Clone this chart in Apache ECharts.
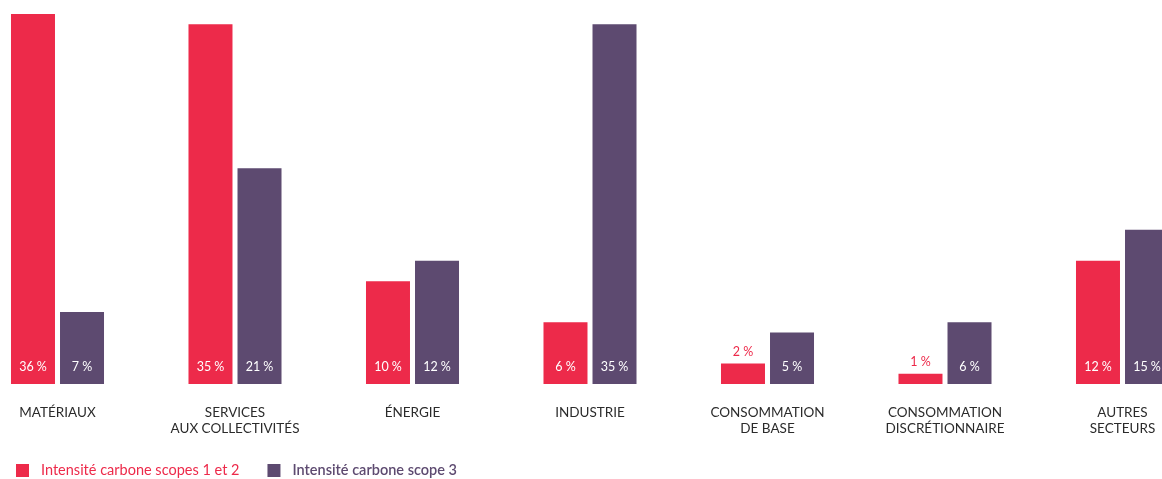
<!DOCTYPE html>
<html>
<head>
<meta charset="utf-8">
<script src="https://cdn.jsdelivr.net/npm/echarts@6/dist/echarts.min.js"></script>
<style>
  html, body { margin: 0; padding: 0; background: #fff; overflow: hidden; }
  #wrap { width: 1162px; height: 479px; overflow: hidden; position: relative; }
  #chart { width: 1300px; height: 479px; position: absolute; left: -32px; top: 0; }
</style>
</head>
<body>
<div id="wrap"><div id="chart"></div></div>
<script>
// data
const categories = [
  "MATÉRIAUX",
  "SERVICES\nAUX COLLECTIVITÉS",
  "ÉNERGIE",
  "INDUSTRIE",
  "CONSOMMATION\nDE BASE",
  "CONSOMMATION\nDISCRÉTIONNAIRE",
  "AUTRES\nSECTEURS"
];
const scope12 = [36, 35, 10, 6, 2, 1, 12];
const scope3 = [7, 21, 12, 35, 5, 6, 15];
const seriesNames = ["Intensité carbone scopes 1 et 2", "Intensité carbone scope 3"];

const RED = "#ED2A4A";
const PURPLE = "#5D4A70";
const FONT = "Lato";
const SHIFT = 32; // chart div is moved left by this much

const chart = echarts.init(document.getElementById("chart"));

// small bars get their label above, in the bar colour
const toItems = (values, color) => values.map(v => {
  if (v < 3) {
    return {
      value: v,
      label: { position: "top", distance: 5, color: color }
    };
  }
  return v;
});

const barLabel = {
  show: true,
  position: "insideBottom",
  distance: 11,
  color: "#fff",
  fontFamily: FONT,
  fontSize: 12.5,
  formatter: p => p.value + " %"
};

const option = {
  animation: false,
  grid: { left: 0.75, width: 1242.5, top: 14, bottom: 95, containLabel: false },
  xAxis: {
    type: "category",
    data: categories,
    axisLine: { show: false },
    axisTick: { show: false },
    axisLabel: {
      margin: 21,
      color: "#2b2b2b",
      fontFamily: FONT,
      fontSize: 13.5,
      lineHeight: 16,
      interval: 0
    }
  },
  yAxis: { type: "value", min: 0, max: 36, show: false },
  legend: {
    left: 16 + SHIFT,
    top: 463,
    padding: 0,
    itemWidth: 13,
    itemHeight: 13,
    itemGap: 28,
    icon: "rect",
    data: [
      { name: seriesNames[0], textStyle: { color: RED } },
      { name: seriesNames[1], textStyle: { color: PURPLE, fontWeight: 600 } }
    ],
    textStyle: { fontFamily: FONT, fontSize: 14.5, padding: [0, 0, 0, 7] }
  },
  series: [
    {
      name: seriesNames[0],
      type: "bar",
      data: toItems(scope12, RED),
      itemStyle: { color: RED },
      barWidth: 44,
      barGap: "11.4%",
      label: barLabel
    },
    {
      name: seriesNames[1],
      type: "bar",
      data: toItems(scope3, PURPLE),
      itemStyle: { color: PURPLE },
      barWidth: 44,
      label: barLabel
    }
  ]
};

chart.setOption(option);
</script>
</body>
</html>
